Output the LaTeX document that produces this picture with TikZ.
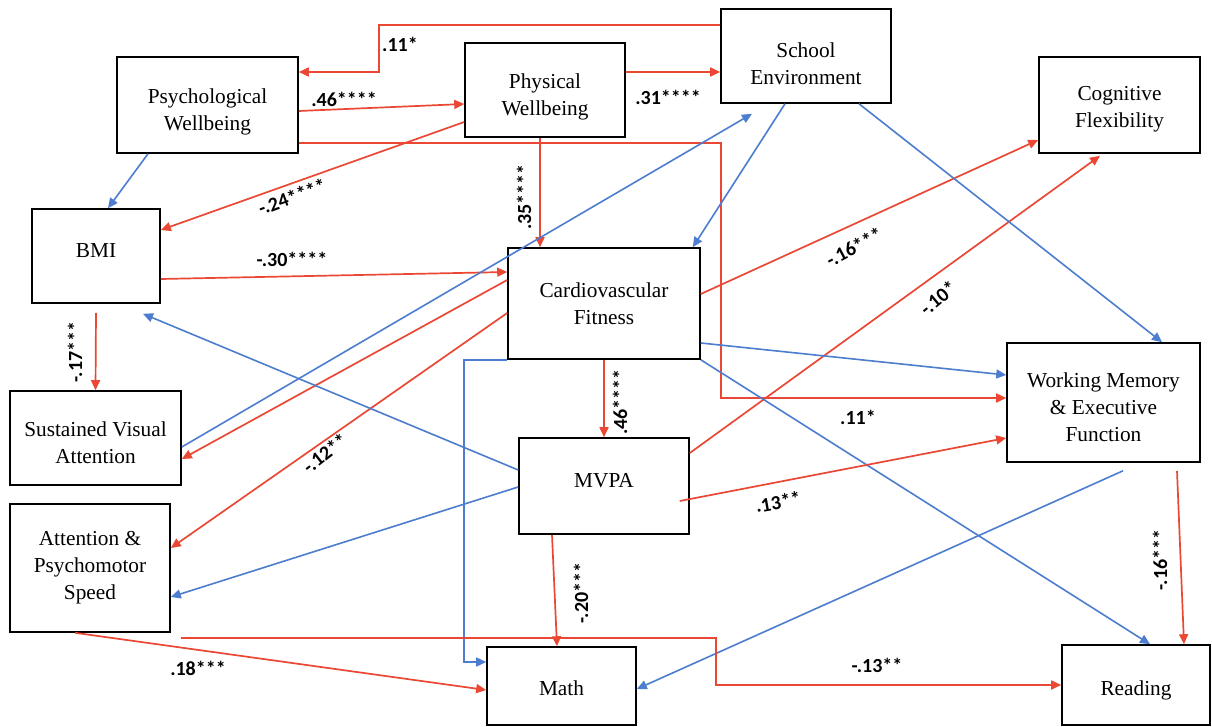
\documentclass[tikz,border=0pt]{standalone}
\usepackage{fontspec}
\setmainfont{Liberation Serif}
\newfontfamily\boxfont{Liberation Serif}
\newfontfamily\labfont{Carlito}[BoldFont={Carlito Bold}]
\usetikzlibrary{arrows.meta}
\definecolor{cred}{RGB}{234,72,52}
\definecolor{cblue}{RGB}{76,125,206}
\begin{document}
\begin{tikzpicture}[x=1pt,y=-1pt,
  box/.style={draw=black, line width=1.6pt, inner sep=0pt},
  txt/.style={align=center, inner sep=0pt, font=\boxfont\fontsize{21.3}{27}\selectfont},
  rl/.style={draw=cred, line width=1.7pt, -{Triangle[length=10pt,width=9pt]}},
  bl/.style={draw=cblue, line width=1.6pt, -{Triangle[length=10pt,width=9pt]}},
  lab/.style={font=\labfont\bfseries\fontsize{20}{22}\selectfont, inner sep=0pt}]
\useasboundingbox[fill=white] (0,0) rectangle (1212,727);

% boxes
\node[box, minimum width=181, minimum height=96] (psych) at (207.5,105) {};
\node[box, minimum width=160, minimum height=94] (phys) at (545,90) {};
\node[box, minimum width=170, minimum height=94] (school) at (806,56) {};
\node[box, minimum width=161, minimum height=96] (cog) at (1119.5,105) {};
\node[box, minimum width=128, minimum height=94] (bmi) at (96,256) {};
\node[box, minimum width=192, minimum height=111] (cardio) at (604,303.5) {};
\node[box, minimum width=170, minimum height=96] (mvpa) at (604,486) {};
\node[box, minimum width=171, minimum height=94] (sva) at (95.5,438) {};
\node[box, minimum width=160, minimum height=128] (aps) at (90,568) {};
\node[box, minimum width=149, minimum height=78] (math) at (561.5,686) {};
\node[box, minimum width=193, minimum height=119] (wm) at (1103.5,402.5) {};
\node[box, minimum width=148, minimum height=80] (reading) at (1136,685) {};

% box texts
\node[txt] (psychT) at ([yshift=-7]psych.center) {Psychological\\Wellbeing};
\node[txt] (physT) at ([yshift=-7]phys.center) {Physical\\Wellbeing};
\node[txt] (schoolT) at ([yshift=-8]school.center) {School\\Environment};
\node[txt] (cogT) at ([yshift=-4]cog.center) {Cognitive\\Flexibility};
\node[txt] (bmiT) at ([yshift=5]bmi.center) {BMI};
\node[txt] (cardioT) at (cardio.center) {Cardiovascular\\Fitness};
\node[txt] (mvpaT) at ([yshift=5]mvpa.center) {MVPA};
\node[txt] (svaT) at ([yshift=-5]sva.center) {Sustained Visual\\Attention};
\node[txt] (apsT) at (aps.center) {Attention \&\\Psychomotor\\Speed};
\node[txt] (mathT) at ([yshift=-2]math.center) {Math};
\node[txt] (wmT) at ([yshift=-5]wm.center) {Working Memory\\\& Executive\\Function};
\node[txt] (readingT) at ([yshift=-5]reading.center) {Reading};

% connectors
\draw[rl] ([yshift=31]school.west) -| ([xshift=80,yshift=33]psych.east) -- ([yshift=33]psych.east);
\draw[rl] ([yshift=-6]psych.east) -- ([yshift=-14]phys.west);
\draw[rl] ([yshift=-38]psych.east) -| ([xshift=-285,yshift=4.5]wm.west) -- ([yshift=4.5]wm.west);
\draw[rl] ([yshift=18]phys.east) -- ([yshift=-16]school.west);
\draw[rl] ([yshift=-32]phys.west) -- ([yshift=26]bmi.east);
\draw[rl] ([xshift=-5]phys.south) -- ([xshift=-64]cardio.north);
\draw[bl] ([xshift=-59.5]psych.south) -- ([xshift=12]bmi.north);
\draw[rl] ([yshift=-23]bmi.east) -- ([yshift=31.5]cardio.west);
\draw[rl] ([yshift=-9]bmi.south) -- (sva.north);
\draw[bl] ([yshift=-9]sva.east) -- ([xshift=-54,yshift=-10]school.south);
\draw[rl] ([yshift=23.5]cardio.west) -- ([yshift=-21]sva.east);
\draw[rl] ([yshift=-9.5]cardio.west) -- ([yshift=20]aps.east);
\draw[bl] ([yshift=16]mvpa.west) -- ([xshift=47,yshift=-10]bmi.south);
\draw[bl] ([yshift=-1]mvpa.west) -- ([yshift=-29]aps.east);
\draw[bl] (cardio.south west) -| ([xshift=-22,yshift=24]math.west) -- ([yshift=24]math.west);
\draw[rl] (cardio.south) -- (mvpa.north);
\draw[rl] ([yshift=9.5]cardio.east) -- ([yshift=-35]cog.west);
\draw[rl] ([yshift=33]mvpa.east) -- ([xshift=-19.5,yshift=-2]cog.south);
\draw[bl] ([yshift=-39.5]cardio.east) -- ([yshift=27.5]wm.west);
\draw[bl] (cardio.south east) -- ([xshift=14]reading.north);
\draw[bl] ([xshift=53]school.south) -- ([xshift=58.5]wm.north);
\draw[bl] ([xshift=-21]school.south) -- ([xshift=-8]cardio.north east);
\draw[rl] ([xshift=-10,yshift=-15]mvpa.east) -- ([yshift=-35.5]wm.west);
\draw[rl] ([xshift=-52]mvpa.south) -- ([xshift=-4.5]math.north);
\draw[rl] ([xshift=73.5,yshift=-8]wm.south) -- ([xshift=48]reading.north);
\draw[bl] ([xshift=19.5,yshift=-8]wm.south) -- ([yshift=-3]math.east);
\draw[rl] ([xshift=-15]aps.south) -- ([yshift=-4]math.west);
\draw[rl] ([xshift=10,yshift=-5]aps.south east) -| ([xshift=-345]reading.west) -- (reading.west);

% labels
\node[lab] (l1) at (400,44) {.11*};
\node[lab] (l2) at (344,99) {.46****};
\node[lab, rotate=20] (l3) at (292,197) {-.24****};
\node[lab, rotate=90] (l4) at (524,197) {.35****};
\node[lab] (l5) at (668,97) {.31****};
\node[lab] (l6) at (292,259) {-.30****};
\node[lab, rotate=90] (l7) at (75,352) {-.17***};
\node[lab, rotate=38] (l8) at (325,453) {-.12**};
\node[lab, rotate=28] (l9) at (854,247) {-.16***};
\node[lab, rotate=40] (l10) at (938,298) {-.10*};
\node[lab, rotate=90] (l11) at (620,402) {.46****};
\node[lab] (l12) at (858,417) {.11*};
\node[lab, rotate=10] (l13) at (778,502) {.13**};
\node[lab, rotate=90] (l14) at (581,593) {-.20***};
\node[lab, rotate=90] (l15) at (1160,560) {-.16***};
\node[lab] (l16) at (198,668) {.18***};
\node[lab] (l17) at (877,665) {-.13**};
\end{tikzpicture}
\end{document}
